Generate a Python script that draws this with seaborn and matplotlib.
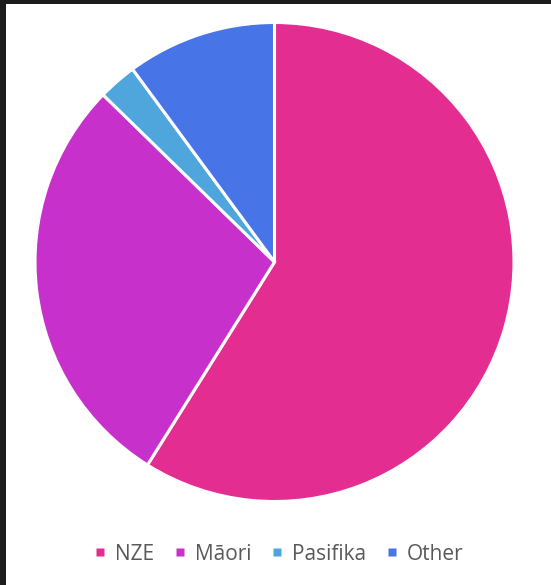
import matplotlib
matplotlib.use("Agg")
import matplotlib.pyplot as plt
from matplotlib.patches import Rectangle
from matplotlib.lines import Line2D
import seaborn as sns

# Share of each group (percent)
groups = ["NZE", "Māori", "Pasifika", "Other"]
shares = [58.9, 28.4, 2.6, 10.1]
colors = ["#E32D91", "#C830CC", "#4EA6DC", "#4775E7"]

sns.set_theme(style="white")
plt.rcParams["font.family"] = ["Open Sans", "DejaVu Sans"]

W, H = 551, 585
fig = plt.figure(figsize=(W / 100, H / 100), dpi=100)
fig.patch.set_facecolor("#1c1c1c")
# white chart area inside the dark frame
fig.patches.append(Rectangle((6 / W, 0), 1 - 6 / W, (H - 4) / H,
                             transform=fig.transFigure, facecolor="white",
                             edgecolor="none", zorder=-10))

cx, cy, r = 274.5, 262, 239.5
ax = fig.add_axes([(cx - r) / W, (H - cy - r) / H, 2 * r / W, 2 * r / H])
ax.set_zorder(1)
ax.set_facecolor("none")
palette = sns.color_palette(colors)
ax.pie(shares, colors=palette, startangle=90, counterclock=False,
       radius=1.0, wedgeprops=dict(edgecolor="white", linewidth=2.2))
ax.set_xlim(-1.0, 1.0)
ax.set_ylim(-1.0, 1.0)
ax.set_aspect("equal")
ax.axis("off")

handles = [Line2D([0], [0], marker="s", linestyle="none", markersize=6.3,
                  markerfacecolor=c, markeredgecolor="none") for c in palette]
leg = fig.legend(handles, groups, loc="center", bbox_to_anchor=(279 / W, (H - 554) / H),
                 ncol=4, frameon=False, fontsize=15, labelcolor="#595959",
                 handlelength=0.55, handletextpad=0.45, columnspacing=0.95,
                 borderpad=0, borderaxespad=0)
leg.set_zorder(2)

fig.savefig("out.png", dpi=100, facecolor=fig.get_facecolor())
